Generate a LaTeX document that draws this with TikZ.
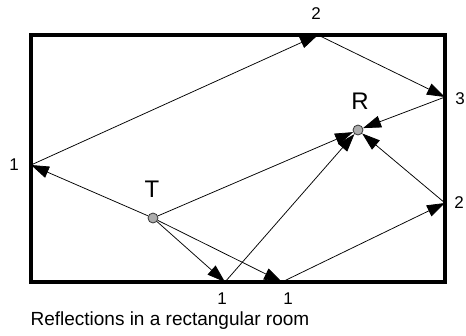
\documentclass[tikz,border=0pt]{standalone}
\usepackage{fontspec}
\setmainfont{Liberation Sans}
\usepackage{tikz}
\usetikzlibrary{arrows.meta}

\tikzset{
  room/.style={line width=3.6pt},
  ray/.style={line width=0.75pt, -{Triangle[length=18pt, width=12pt]}},
  antenna/.style={circle, fill=gray!65, draw=gray!40!black, line width=0.8pt,
                  inner sep=0pt, minimum size=10pt},
  hitlabel/.style={font=\fontsize{17}{17}\selectfont},
  sitelabel/.style={font=\fontsize{24}{24}\selectfont}
}

\begin{document}
\begin{tikzpicture}[x=1pt, y=-1pt]
  \useasboundingbox (0,0) rectangle (466,335);
  \draw[room] (31,35) rectangle (445,282);

  % points where the rays hit the walls
  \coordinate (left1)   at (31,165);
  \coordinate (top2)    at (318,35);
  \coordinate (right3)  at (445,97);
  \coordinate (right2)  at (445,203);
  \coordinate (bottomA) at (225,282);
  \coordinate (bottomB) at (282,282);

  \node[antenna] (T) at (153,218) {};
  \node[antenna] (R) at (358,130) {};
  \node[sitelabel] (Tname) at (152,189) {T};
  \node[sitelabel] (Rname) at (360,101) {R};

  \node[hitlabel] (left1lab)   at (14,165)  {1};
  \node[hitlabel] (top2lab)    at (316,14)  {2};
  \node[hitlabel] (right3lab)  at (460,99)  {3};
  \node[hitlabel] (right2lab)  at (459,203) {2};
  \node[hitlabel] (bottomAlab) at (222,299) {1};
  \node[hitlabel] (bottomBlab) at (288,299) {1};

  % direct ray
  \draw[ray] (T) -- (R);
  % three reflections
  \draw[ray] (T) -- (left1);
  \draw[ray] (left1) -- (top2);
  \draw[ray] (top2) -- (right3);
  \draw[ray] (right3) -- (R);
  % one reflection
  \draw[ray] (T) -- (bottomA);
  \draw[ray] (bottomA) -- (R);
  % two reflections
  \draw[ray] (T) -- (bottomB);
  \draw[ray] (bottomB) -- (right2);
  \draw[ray] (right2) -- (R);

  \node[font=\fontsize{19}{19}\selectfont, anchor=west] (caption) at (27,321)
    {Reflections in a rectangular room};
\end{tikzpicture}
\end{document}
